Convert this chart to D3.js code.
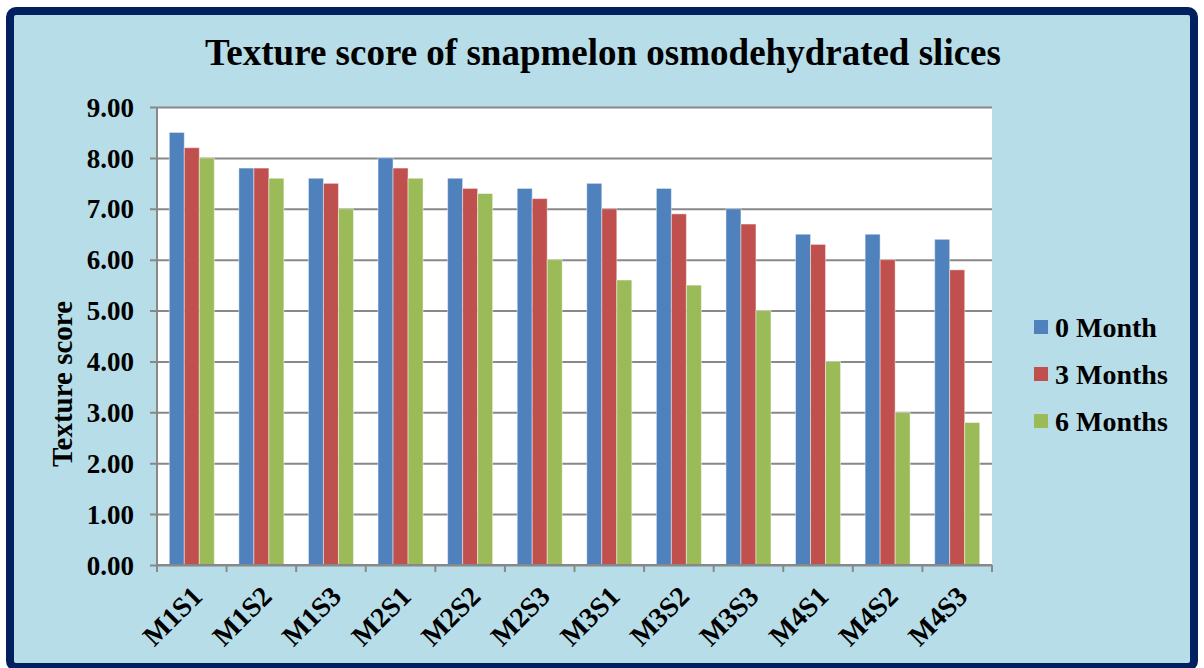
<!DOCTYPE html>
<html>
<head>
<meta charset="utf-8">
<script src="https://cdn.jsdelivr.net/npm/d3@7"></script>
<style>
  body { margin: 0; background: #fff; }
  svg text { font-family: "Liberation Serif", "Times New Roman", serif; font-weight: bold; fill: #000; }
</style>
</head>
<body>
<svg width="1204" height="668"></svg>
<script>
var categories = ['M1S1', 'M1S2', 'M1S3', 'M2S1', 'M2S2', 'M2S3', 'M3S1', 'M3S2', 'M3S3', 'M4S1', 'M4S2', 'M4S3'];
var seriesNames = ['0 Month', '3 Months', '6 Months'];
var month0 = [8.5, 7.8, 7.6, 8.0, 7.6, 7.4, 7.5, 7.4, 7.0, 6.5, 6.5, 6.4];
var month3 = [8.2, 7.8, 7.5, 7.8, 7.4, 7.2, 7.0, 6.9, 6.7, 6.3, 6.0, 5.8];
var month6 = [8.0, 7.6, 7.0, 7.6, 7.3, 6.0, 5.6, 5.5, 5.0, 4.0, 3.0, 2.8];
var yTicks = [0, 1, 2, 3, 4, 5, 6, 7, 8, 9];
var colors = ['#4f81bd', '#c0504d', '#9bbb59'];

var svg = d3.select('svg');

// outer frame
svg.append('rect')
  .attr('x', 10).attr('y', 11)
  .attr('width', 1184).attr('height', 656)
  .attr('rx', 6)
  .attr('fill', '#b7dde8')
  .attr('stroke', '#002060')
  .attr('stroke-width', 8);

var plot = { left: 157, right: 992, top: 107, bottom: 565 };

var x = d3.scaleBand().domain(categories).range([plot.left, plot.right]);
var gap = x.bandwidth() * 0.353;
var x1 = d3.scaleBand().domain(seriesNames).range([gap / 2, x.bandwidth() - gap / 2]);
var y = d3.scaleLinear().domain([0, 9]).range([plot.bottom, plot.top]);

// plot area
svg.append('rect')
  .attr('x', plot.left).attr('y', plot.top)
  .attr('width', plot.right - plot.left).attr('height', plot.bottom - plot.top)
  .attr('fill', '#fff');

// title
svg.append('text')
  .attr('x', 603).attr('y', 65)
  .attr('text-anchor', 'middle')
  .style('font-size', '37px')
  .text('Texture score of snapmelon osmodehydrated slices');

// y gridlines + axis
var yAxis = d3.axisLeft(y)
  .tickValues(yTicks)
  .tickSize(-(plot.right - plot.left))
  .tickPadding(23)
  .tickFormat(d3.format('.2f'));
var yg = svg.append('g')
  .attr('transform', 'translate(' + plot.left + ',0)')
  .call(yAxis);
yg.select('.domain').remove();
yg.selectAll('.tick line')
  .attr('x1', -7)
  .attr('stroke', '#888').attr('stroke-width', 2);
yg.selectAll('.tick text')
  .style('font-size', '27px')
  .attr('dy', '0.34em');

// bars
var series = [month0, month3, month6];
var groups = svg.append('g').selectAll('g')
  .data(categories)
  .join('g')
  .attr('transform', function(d) { return 'translate(' + x(d) + ',0)'; });
groups.selectAll('rect')
  .data(function(d, i) {
    return seriesNames.map(function(s, j) { return { s: s, v: series[j][i], c: colors[j] }; });
  })
  .join('rect')
  .attr('x', function(d) { return x1(d.s); })
  .attr('width', x1.bandwidth())
  .attr('y', function(d) { return y(d.v); })
  .attr('height', function(d) { return y(0) - y(d.v); })
  .attr('fill', function(d) { return d.c; })
  .attr('stroke', 'rgba(255,255,255,0.45)')
  .attr('stroke-width', 1);

// y axis line
svg.append('line')
  .attr('x1', plot.left).attr('x2', plot.left)
  .attr('y1', plot.top).attr('y2', plot.bottom)
  .attr('stroke', '#888').attr('stroke-width', 2);

// x axis
var xg = svg.append('g')
  .attr('transform', 'translate(0,' + plot.bottom + ')');
xg.append('line')
  .attr('x1', plot.left).attr('x2', plot.right)
  .attr('stroke', '#888').attr('stroke-width', 2);
var bounds = categories.map(function(c) { return x(c); }).concat([plot.right]);
xg.selectAll('.xtick')
  .data(bounds)
  .join('line')
  .attr('class', 'xtick')
  .attr('x1', function(d) { return d; }).attr('x2', function(d) { return d; })
  .attr('y1', 0).attr('y2', 7)
  .attr('stroke', '#888').attr('stroke-width', 2);
xg.selectAll('.xlabel')
  .data(categories)
  .join('text')
  .attr('class', 'xlabel')
  .attr('text-anchor', 'end')
  .style('font-size', '28px')
  .attr('transform', function(d) {
    return 'translate(' + (x(d) + x.bandwidth() / 2 + 12) + ',' + 33 + ') rotate(-45)';
  })
  .text(function(d) { return d; });

// y axis title
svg.append('text')
  .attr('transform', 'translate(72,384) rotate(-90)')
  .attr('text-anchor', 'middle')
  .style('font-size', '29px')
  .text('Texture score');

// legend
var legend = svg.append('g').selectAll('g')
  .data(seriesNames)
  .join('g')
  .attr('transform', function(d, i) { return 'translate(1034,' + (327 + i * 47) + ')'; });
legend.append('rect')
  .attr('x', 0).attr('y', -7)
  .attr('width', 14).attr('height', 14)
  .attr('fill', function(d, i) { return colors[i]; });
legend.append('text')
  .attr('x', 21).attr('y', 0)
  .attr('dy', '0.35em')
  .style('font-size', '28px')
  .text(function(d) { return d; });
</script>
</body>
</html>
